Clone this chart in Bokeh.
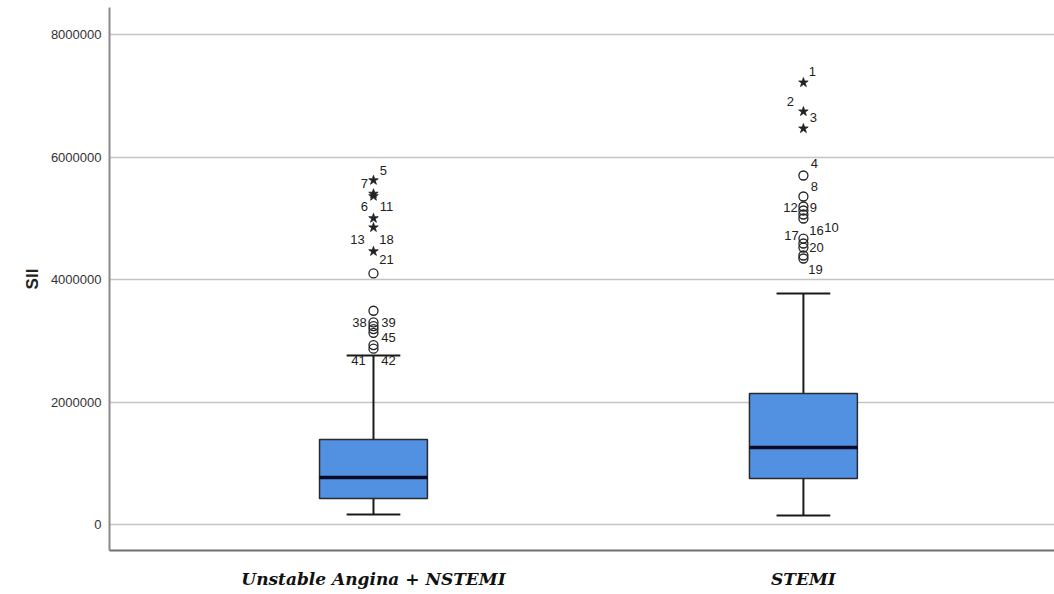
from bokeh.plotting import figure
from bokeh.models import Range1d, FixedTicker, NumeralTickFormatter, ColumnDataSource
from bokeh.core.properties import value
from bokeh.embed import file_html
from bokeh.resources import INLINE

# ---------------- data ----------------
categories = ["Unstable Angina + NSTEMI", "STEMI"]
q1 = [424000, 751000]
median = [767000, 1257000]
q3 = [1388000, 2139000]
whisker_low = [163000, 147000]
whisker_high = [2759000, 3771000]

ua_outliers = [5620000, 5400000, 5360000, 5000000, 4850000, 4460000, 4100000,
               3490000, 3300000, 3240000, 3190000, 3130000, 2930000, 2870000]
stemi_outliers = [7216000, 6743000, 6465000, 5698000, 5355000, 5192000, 5127000,
                  5061000, 4996000, 4669000, 4588000, 4522000, 4392000, 4343000]

ua_labels = ["5", "7", "6", "11", "13", "18", "21", "38", "39", "45", "41", "42"]
ua_label_values = [5620000, 5620000, 5360000, 5360000, 4850000, 4850000, 4460000,
                   3300000, 3300000, 3130000, 2870000, 2870000]
stemi_labels = ["1", "2", "3", "4", "8", "12", "9", "17", "16", "10", "20", "19"]
stemi_label_values = [7216000, 6743000, 6743000, 5698000, 5698000, 5192000, 5192000,
                      4669000, 4669000, 4669000, 4522000, 4343000]

y_ticks = [0, 2000000, 4000000, 6000000, 8000000]

# ---------------- styles (pixel offsets of case labels) ----------------
ua_dx = [10, -9, -9, 13, -16, 13, 13, -14, 15, 15, -15, 15]
ua_dy = [-10, 3, 10, 10, 12, 12, 8, 0, 0, 5, 12, 12]
stemi_dx = [9, -13, 10, 11, 11, -13, 10, -12, 13, 28, 13, 12]
stemi_dy = [-11, -10, 6, -12, 11, 1, 1, -3, -8, -11, 0, 11]

BOX_W = 0.251
CAP_W = 0.125
BOX_FILL = "#5291e1"

p = figure(width=1054, height=594,
           x_range=Range1d(-0.614, 1.584), y_range=Range1d(-424500, 8441000),
           output_backend="svg", toolbar_location=None,
           min_border_left=109, min_border_right=0, min_border_top=7,
           min_border_bottom=44)
p.outline_line_color = None
p.background_fill_color = "white"
p.border_fill_color = "white"

xs = list(range(len(categories)))

# whiskers
p.segment(x0=xs, y0=q3, x1=xs, y1=whisker_high, line_color="#1a1a1a", line_width=2)
p.segment(x0=xs, y0=q1, x1=xs, y1=whisker_low, line_color="#1a1a1a", line_width=2)
# caps
p.segment(x0=[x - CAP_W / 2 for x in xs], y0=whisker_high,
          x1=[x + CAP_W / 2 for x in xs], y1=whisker_high, line_color="#1a1a1a", line_width=2)
p.segment(x0=[x - CAP_W / 2 for x in xs], y0=whisker_low,
          x1=[x + CAP_W / 2 for x in xs], y1=whisker_low, line_color="#1a1a1a", line_width=2)
# boxes
p.vbar(x=xs, width=BOX_W, top=q3, bottom=q1, fill_color=BOX_FILL,
       line_color="#2a2a2a", line_width=1.5)
# medians
p.segment(x0=[x - BOX_W / 2 for x in xs], y0=median,
          x1=[x + BOX_W / 2 for x in xs], y1=median, line_color="#0a0a28", line_width=3.5)

# outliers: circles (>1.5 IQR) and stars (>3 IQR)
for i, outs in enumerate([ua_outliers, stemi_outliers]):
    iqr = q3[i] - q1[i]
    extreme = [v for v in outs if v > q3[i] + 3 * iqr]
    mild = [v for v in outs if v <= q3[i] + 3 * iqr]
    p.scatter(x=[i] * len(mild), y=mild, marker="circle", size=9,
              fill_color=None, line_color="#222222", line_width=1.3)
    p.scatter(x=[i] * len(extreme), y=extreme, marker="star", size=10,
              fill_color="#222222", line_color="#222222", line_width=0.8)

for i, (labs, vals, dx, dy) in enumerate([(ua_labels, ua_label_values, ua_dx, ua_dy),
                                          (stemi_labels, stemi_label_values, stemi_dx, stemi_dy)]):
    src = ColumnDataSource(dict(x=[i] * len(labs), y=vals, t=labs, dx=dx, dy=dy))
    p.text(x="x", y="y", text="t", x_offset="dx", y_offset="dy", source=src,
           text_font=value("Liberation Sans"), text_font_size="13px",
           text_color="#222222", text_align="center", text_baseline="middle")

# axes
p.xaxis.ticker = FixedTicker(ticks=xs)
p.xaxis.major_label_overrides = {i: c for i, c in enumerate(categories)}
p.xaxis.major_tick_out = 0
p.xaxis.major_tick_in = 0
p.xaxis.minor_tick_out = 0
p.xaxis.minor_tick_in = 0
p.xaxis.major_label_standoff = 18
p.xaxis.major_label_text_font = "DejaVu Serif"
p.xaxis.major_label_text_font_style = "bold italic"
p.xaxis.major_label_text_font_size = "17px"
p.xaxis.major_label_text_color = "#111111"
p.xaxis.axis_line_color = "#6e6e6e"
p.xaxis.axis_line_width = 2

p.yaxis.ticker = FixedTicker(ticks=y_ticks)
p.yaxis.formatter = NumeralTickFormatter(format="0")
p.yaxis.major_tick_out = 0
p.yaxis.major_tick_in = 0
p.yaxis.minor_tick_out = 0
p.yaxis.minor_tick_in = 0
p.yaxis.major_label_standoff = 8
p.yaxis.major_label_text_font = "Liberation Sans"
p.yaxis.major_label_text_font_size = "13px"
p.yaxis.major_label_text_color = "#333333"
p.yaxis.axis_line_color = "#8a8a8a"
p.yaxis.axis_line_width = 2
p.yaxis.axis_label = "SII"
p.yaxis.axis_label_text_font = "Liberation Sans"
p.yaxis.axis_label_text_font_style = "bold"
p.yaxis.axis_label_text_font_size = "17px"
p.yaxis.axis_label_text_color = "#222222"
p.yaxis.axis_label_standoff = 6

p.xgrid.grid_line_color = None
p.ygrid.ticker = FixedTicker(ticks=y_ticks)
p.ygrid.grid_line_color = "#c4c4c4"
p.ygrid.grid_line_width = 1.5

open("out.html", "w").write(file_html(p, INLINE))
